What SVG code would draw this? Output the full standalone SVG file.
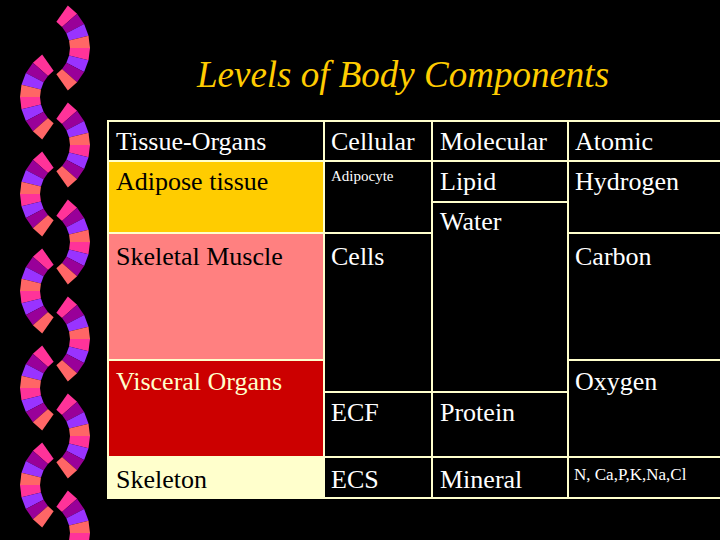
<svg xmlns="http://www.w3.org/2000/svg" xmlns:xlink="http://www.w3.org/1999/xlink" width="720" height="540" viewBox="0 0 720 540">
<style>
.t{font-family:"Liberation Serif","Times New Roman","DejaVu Serif",serif;font-size:26px;fill:#fff}
.d{fill:#000}
.c{stroke:#FFFFCC;stroke-width:2}
</style>
<defs>
<g id="arc">
<polygon fill="#FF3399" points="18.36,-26.21 29.83,-42.6 39.09,-34.28 24.06,-21.1"/>
<polygon fill="#990099" points="24.06,-21.1 39.09,-34.28 46.12,-24.01 28.38,-14.77"/>
<polygon fill="#9933FF" points="28.38,-14.77 46.12,-24.01 50.51,-12.36 31.08,-7.61"/>
<polygon fill="#FF6666" points="31.08,-7.61 50.51,-12.36 52,0 32,0"/>
<polygon fill="#FF3399" points="32,0 52,0 50.51,12.36 31.08,7.61"/>
<polygon fill="#9933FF" points="31.08,7.61 50.51,12.36 46.12,24.01 28.38,14.77"/>
<polygon fill="#990099" points="28.38,14.77 46.12,24.01 39.09,34.28 24.06,21.1"/>
<polygon fill="#FF6666" points="24.06,21.1 39.09,34.28 29.83,42.6 18.36,26.21"/>
</g>
</defs>
<rect width="720" height="540" fill="#000"/>
<g id="decor">
<use xlink:href="#arc" transform="translate(38,48)"/>
<use xlink:href="#arc" transform="translate(72,97) scale(-1,1)"/>
<use xlink:href="#arc" transform="translate(38,145)"/>
<use xlink:href="#arc" transform="translate(72,194) scale(-1,1)"/>
<use xlink:href="#arc" transform="translate(38,242)"/>
<use xlink:href="#arc" transform="translate(72,291) scale(-1,1)"/>
<use xlink:href="#arc" transform="translate(38,339)"/>
<use xlink:href="#arc" transform="translate(72,388) scale(-1,1)"/>
<use xlink:href="#arc" transform="translate(38,436)"/>
<use xlink:href="#arc" transform="translate(72,485) scale(-1,1)"/>
<use xlink:href="#arc" transform="translate(38,533)"/>
</g>
<text id="title" x="403" y="87" text-anchor="middle" style="font-family:'Liberation Serif','Times New Roman','DejaVu Serif',serif;font-style:italic;font-size:37px;fill:#FFCC00">Levels of Body Components</text>
<g id="cells">
<rect class="c" x="108" y="121" width="216" height="40" fill="#000"/>
<rect class="c" x="108" y="161" width="216" height="72" fill="#FFCC00"/>
<rect class="c" x="108" y="233" width="216" height="127" fill="#FF8080"/>
<rect class="c" x="108" y="360" width="216" height="97" fill="#CC0000"/>
<rect class="c" x="108" y="457" width="216" height="41" fill="#FFFFCC"/>
<rect class="c" x="324" y="121" width="108" height="40" fill="#000"/>
<rect class="c" x="324" y="161" width="108" height="72" fill="#000"/>
<rect class="c" x="324" y="233" width="108" height="159" fill="#000"/>
<rect class="c" x="324" y="392" width="108" height="65" fill="#000"/>
<rect class="c" x="324" y="457" width="108" height="41" fill="#000"/>
<rect class="c" x="432" y="121" width="136" height="40" fill="#000"/>
<rect class="c" x="432" y="161" width="136" height="41" fill="#000"/>
<rect class="c" x="432" y="202" width="136" height="190" fill="#000"/>
<rect class="c" x="432" y="392" width="136" height="65" fill="#000"/>
<rect class="c" x="432" y="457" width="136" height="41" fill="#000"/>
<rect class="c" x="568" y="121" width="153" height="40" fill="#000"/>
<rect class="c" x="568" y="161" width="153" height="72" fill="#000"/>
<rect class="c" x="568" y="233" width="153" height="127" fill="#000"/>
<rect class="c" x="568" y="360" width="153" height="97" fill="#000"/>
<rect class="c" x="568" y="457" width="153" height="41" fill="#000"/>
</g>
<g id="labels">
<text class="t" x="116" y="150">Tissue-Organs</text>
<text class="t d" x="116" y="190">Adipose tissue</text>
<text class="t d" x="116" y="265">Skeletal Muscle</text>
<text class="t" x="116" y="390" style="fill:#FFFFCC">Visceral Organs</text>
<text class="t d" x="116" y="488">Skeleton</text>
<text class="t" x="331" y="150">Cellular</text>
<text class="t" x="331" y="181" style="font-size:15px">Adipocyte</text>
<text class="t" x="331" y="265">Cells</text>
<text class="t" x="331" y="421">ECF</text>
<text class="t" x="331" y="488">ECS</text>
<text class="t" x="440" y="150">Molecular</text>
<text class="t" x="440" y="190">Lipid</text>
<text class="t" x="440" y="230">Water</text>
<text class="t" x="440" y="421">Protein</text>
<text class="t" x="440" y="488">Mineral</text>
<text class="t" x="575" y="150">Atomic</text>
<text class="t" x="575" y="190">Hydrogen</text>
<text class="t" x="575" y="265">Carbon</text>
<text class="t" x="575" y="390">Oxygen</text>
<text class="t" x="574" y="480" style="font-size:17px">N, Ca,P,K,Na,Cl</text>
</g>
</svg>
